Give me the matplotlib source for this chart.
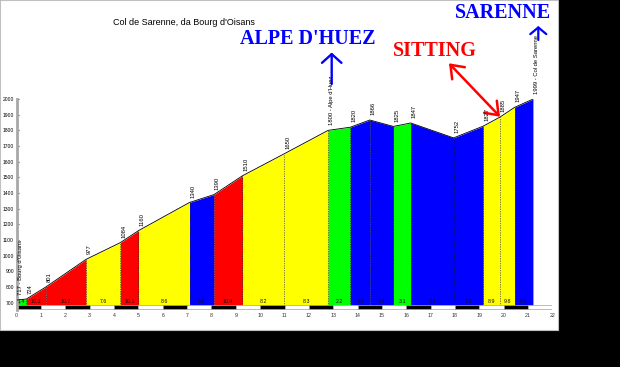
import matplotlib
matplotlib.use("Agg")
import matplotlib.pyplot as plt
from matplotlib.patches import Rectangle

# ---- data ----
km_points = [0.0, 0.4, 1.2, 2.85, 4.26, 5.0, 7.1, 8.1, 9.27, 10.98, 12.79,
             13.7, 14.5, 15.47, 16.18, 17.94, 19.16, 19.85, 20.45, 21.2]
altitudes = [717, 724, 801, 977, 1084, 1160, 1340, 1390, 1510, 1650, 1800,
             1820, 1866, 1825, 1847, 1752, 1827, 1885, 1947, 1999]
point_labels = ["717 - Bourg d'Oisans", "724", "801", "977", "1084", "1160", "1340",
                "1390", "1510", "1650", "1800 - Alpe d'Huez", "1820", "1866", "1825",
                "1847", "1752", "1827", "1885", "1947", "1999 - Col de Sarenne"]
gradients = [1.4, 10.3, 10.7, 7.6, 10.1, 8.6, 5.0, 10.4, 8.2, 8.3, 2.2,
             6.0, 4.3, 3.1, 5.4, 6.2, 8.9, 9.8, 6.9]
y_ticks = list(range(700, 2001, 100))
x_ticks = list(range(0, 23))
title = "Col de Sarenne, da Bourg d'Oisans"


def grad_color(g):
    if g < 4:
        return "#00ff00"
    if g < 7:
        return "#0000ff"
    if g < 10:
        return "#ffff00"
    return "#ff0000"


W, H = 620, 367
fig = plt.figure(figsize=(W / 100, H / 100), dpi=100, facecolor="black")
fig.patches.append(Rectangle((0, (H - 330) / H), 558 / W, 330 / H,
                             transform=fig.transFigure, facecolor="white",
                             edgecolor="#c0c0c0", lw=0.8, zorder=-10))

left = 16.7 / W
right = 552.4 / W
bottom_px = 309.8
top_px = 99.0
ax = fig.add_axes([left, (H - bottom_px) / H, right - left, (bottom_px - top_px) / H])
ax.set_zorder(5)
ax.set_facecolor("none")
base = 685
ymin = 655
ax.set_xlim(0, 22)
ax.set_ylim(ymin, 2000)

for i in range(len(gradients)):
    x0, x1 = km_points[i], km_points[i + 1]
    a0, a1 = altitudes[i], altitudes[i + 1]
    ax.fill_between([x0, x1], [a0, a1], base, color=grad_color(gradients[i]), lw=0, zorder=1)
    ax.text((x0 + x1) / 2, base + 4, f"{gradients[i]:.1f}", ha="center", va="bottom",
            fontsize=3.8, family="Liberation Sans", color="#111111", zorder=4)

for i in range(1, len(km_points) - 1):
    ax.plot([km_points[i], km_points[i]], [base, altitudes[i]], ls=(0, (1, 1.5)),
            color="black", lw=0.5, zorder=2)

ax.plot(km_points, altitudes, color="black", lw=0.6, zorder=3)

for x, a, lab in zip(km_points, altitudes, point_labels):
    ax.annotate(lab, (x, a), xytext=(2.5, 3.5), textcoords="offset points",
                rotation=90, ha="center", va="bottom", fontsize=4.2,
                family="Liberation Sans", color="black", zorder=4)

# km strip
for i in range(22):
    ax.add_patch(Rectangle((i, 657), 1, base - 657,
                           facecolor="black" if i % 2 == 0 else "white",
                           edgecolor="#a0a0a0", lw=0.5, zorder=2))

for s in ["top", "right", "bottom"]:
    ax.spines[s].set_visible(False)
ax.spines["left"].set_color("#a8a8a8")
ax.spines["left"].set_linewidth(2)
ax.spines["left"].set_bounds(ymin, 2000)

ax.set_yticks(y_ticks)
ax.set_yticklabels([str(v) for v in y_ticks], fontsize=3.6, family="Liberation Sans")
ax.tick_params(axis="y", direction="in", length=1.5, width=0.8, color="red", pad=2)
ax.set_xticks(x_ticks)
ax.set_xticklabels([str(v) for v in x_ticks], fontsize=3.8, family="Liberation Sans",
                   color="#333333")
ax.tick_params(axis="x", length=0, pad=2.5)

fig.text(184 / W, 1 - 22.7 / H, title, ha="center", va="center", fontsize=6.5,
         family="Liberation Sans", color="black")

big = dict(family="Liberation Serif", fontweight="heavy", fontsize=14.5,
           ha="center", va="center")
fig.text(307.5 / W, 1 - 38.5 / H, "ALPE D'HUEZ", color="blue", **big)
fig.text(503 / W, 1 - 13.5 / H, "SARENNE", color="blue", **big)
fig.text(434.5 / W, 1 - 50.5 / H, "SITTING", color="red", **big)

ax.annotate("", xy=(331.7, H - 52.5), xytext=(331.7, H - 84), xycoords="figure pixels",
            textcoords="figure pixels",
            arrowprops=dict(arrowstyle="->, head_length=0.45, head_width=0.5",
                            color="blue", lw=1.7, mutation_scale=14,
                            shrinkA=0, shrinkB=0))
ax.annotate("", xy=(538.3, H - 26), xytext=(538.3, H - 40), xycoords="figure pixels",
            textcoords="figure pixels",
            arrowprops=dict(arrowstyle="->, head_length=0.4, head_width=0.48",
                            color="blue", lw=1.6, mutation_scale=12,
                            shrinkA=0, shrinkB=0))
ax.annotate("", xy=(500, H - 116.7), xytext=(449, H - 63.3), xycoords="figure pixels",
            textcoords="figure pixels",
            arrowprops=dict(arrowstyle="<->, head_length=0.6, head_width=0.45",
                            color="red", lw=1.8, mutation_scale=14,
                            shrinkA=0, shrinkB=0))

fig.savefig("out.png", dpi=100, facecolor="black")
